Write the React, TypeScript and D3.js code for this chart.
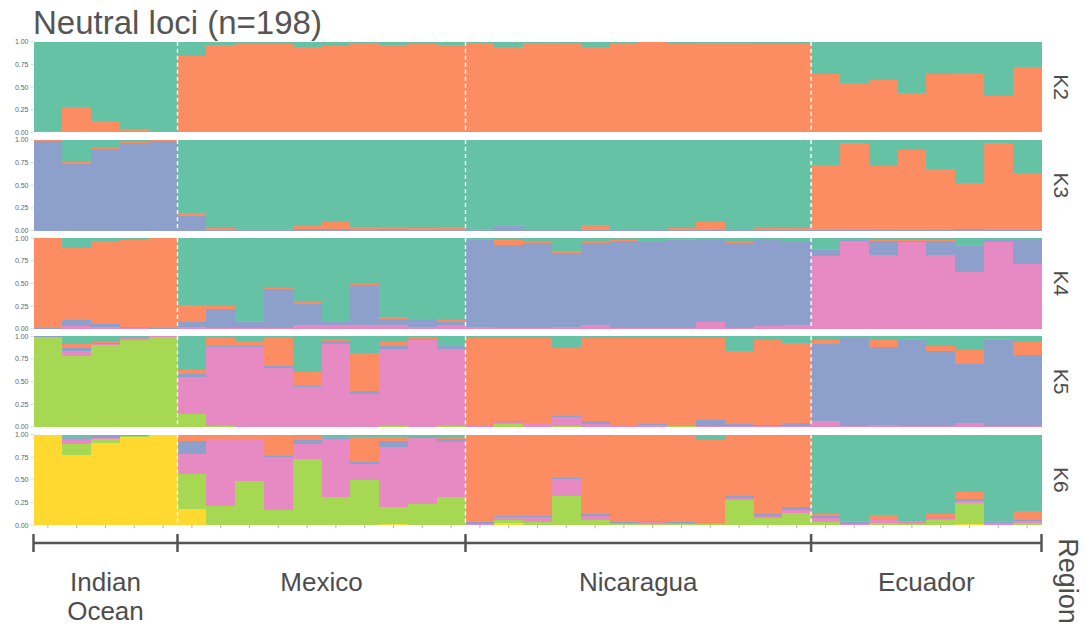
import React from "react";
import * as d3 from "d3";

const regions = ["Indian\nOcean", "Mexico", "Nicaragua", "Ecuador"];
const regionSizes = [5, 10, 12, 8];
const kLabels = ["K2", "K3", "K4", "K5", "K6"];
const yTicks = [0, 0.25, 0.5, 0.75, 1];
const clusterColors = ["#66c2a5", "#fc8d62", "#8da0cb", "#e78ac3", "#a6d854", "#ffd92f"];

// Each row: [q1, q2, ...qK] membership proportions per individual
const k2: number[][] = [
  [0.99, 0.01], [0.72, 0.28], [0.875, 0.125], [0.967, 0.033], [0.995, 0.005],
  [0.154, 0.846], [0.04, 0.96], [0.022, 0.978], [0.022, 0.978], [0.06, 0.94], [0.044, 0.956], [0.018, 0.982], [0.04, 0.96], [0.025, 0.975], [0.04, 0.96],
  [0.015, 0.985], [0.06, 0.94], [0.015, 0.985], [0.015, 0.985], [0.063, 0.937], [0.015, 0.985], [0.005, 0.995], [0.025, 0.975], [0.015, 0.985], [0.01, 0.99], [0.02, 0.98], [0.02, 0.98],
  [0.357, 0.643], [0.452, 0.548], [0.423, 0.577], [0.57, 0.43], [0.357, 0.643], [0.35, 0.65], [0.596, 0.404], [0.283, 0.717],
];

const k3: number[][] = [
  [0.005, 0.01, 0.985], [0.244, 0.018, 0.738], [0.085, 0.015, 0.9], [0.022, 0.015, 0.963], [0.0, 0.011, 0.989],
  [0.808, 0.026, 0.166], [0.974, 0.015, 0.011], [0.985, 0.01, 0.005], [0.982, 0.008, 0.01], [0.952, 0.033, 0.015], [0.908, 0.077, 0.015], [0.965, 0.03, 0.005], [0.96, 0.022, 0.018], [0.974, 0.019, 0.007], [0.96, 0.035, 0.005],
  [0.985, 0.012, 0.003], [0.941, 0.007, 0.052], [0.993, 0.004, 0.003], [0.993, 0.004, 0.003], [0.941, 0.054, 0.005], [0.993, 0.004, 0.003], [0.993, 0.004, 0.003], [0.974, 0.016, 0.01], [0.904, 0.091, 0.005], [0.989, 0.008, 0.003], [0.97, 0.025, 0.005], [0.97, 0.025, 0.005],
  [0.28, 0.715, 0.005], [0.037, 0.96, 0.003], [0.292, 0.697, 0.011], [0.107, 0.888, 0.005], [0.325, 0.67, 0.005], [0.476, 0.502, 0.022], [0.037, 0.952, 0.011], [0.362, 0.633, 0.005],
];

const k4: number[][] = [
  [0.003, 0.993, 0.002, 0.002], [0.114, 0.787, 0.066, 0.033], [0.033, 0.916, 0.033, 0.018], [0.018, 0.96, 0.011, 0.011], [0.003, 0.993, 0.002, 0.002],
  [0.74, 0.18, 0.062, 0.018], [0.751, 0.029, 0.209, 0.011], [0.912, 0.008, 0.069, 0.011], [0.546, 0.011, 0.432, 0.011], [0.707, 0.018, 0.238, 0.037], [0.92, 0.005, 0.029, 0.046], [0.506, 0.011, 0.439, 0.044], [0.872, 0.018, 0.073, 0.037], [0.89, 0.007, 0.085, 0.018], [0.908, 0.015, 0.04, 0.037],
  [0.01, 0.008, 0.964, 0.018], [0.022, 0.055, 0.916, 0.007], [0.04, 0.015, 0.934, 0.011], [0.147, 0.014, 0.817, 0.022], [0.04, 0.015, 0.901, 0.044], [0.022, 0.007, 0.96, 0.011], [0.04, 0.004, 0.945, 0.011], [0.011, 0.007, 0.971, 0.011], [0.007, 0.004, 0.909, 0.08], [0.04, 0.015, 0.934, 0.011], [0.008, 0.007, 0.952, 0.033], [0.033, 0.004, 0.926, 0.037],
  [0.121, 0.015, 0.064, 0.8], [0.02, 0.005, 0.005, 0.97], [0.018, 0.019, 0.154, 0.809], [0.022, 0.008, 0.018, 0.952], [0.022, 0.011, 0.151, 0.816], [0.074, 0.018, 0.279, 0.629], [0.007, 0.004, 0.029, 0.96], [0.011, 0.004, 0.275, 0.71],
];

const k5: number[][] = [
  [0.0, 0.0, 0.005, 0.002, 0.993], [0.085, 0.04, 0.037, 0.055, 0.783], [0.059, 0.018, 0.004, 0.019, 0.9], [0.014, 0.004, 0.0, 0.019, 0.963], [0.0, 0.0, 0.002, 0.002, 0.996],
  [0.368, 0.052, 0.025, 0.415, 0.14], [0.007, 0.1, 0.007, 0.876, 0.01], [0.051, 0.056, 0.007, 0.881, 0.005], [0.007, 0.324, 0.015, 0.649, 0.005], [0.397, 0.151, 0.015, 0.432, 0.005], [0.037, 0.018, 0.026, 0.914, 0.005], [0.185, 0.423, 0.028, 0.359, 0.005], [0.066, 0.044, 0.03, 0.845, 0.015], [0.015, 0.018, 0.007, 0.955, 0.005], [0.092, 0.018, 0.03, 0.845, 0.015],
  [0.015, 0.976, 0.002, 0.005, 0.002], [0.015, 0.919, 0.011, 0.022, 0.033], [0.015, 0.937, 0.008, 0.035, 0.005], [0.125, 0.75, 0.015, 0.103, 0.007], [0.022, 0.915, 0.026, 0.032, 0.005], [0.015, 0.97, 0.008, 0.005, 0.002], [0.015, 0.952, 0.007, 0.021, 0.005], [0.015, 0.97, 0.002, 0.002, 0.011], [0.015, 0.911, 0.064, 0.005, 0.005], [0.158, 0.812, 0.024, 0.004, 0.002], [0.044, 0.93, 0.02, 0.004, 0.002], [0.07, 0.882, 0.042, 0.004, 0.002],
  [0.037, 0.044, 0.856, 0.061, 0.002], [0.015, 0.0, 0.979, 0.004, 0.002], [0.037, 0.084, 0.853, 0.024, 0.002], [0.032, 0.005, 0.957, 0.004, 0.002], [0.107, 0.051, 0.833, 0.007, 0.002], [0.147, 0.162, 0.647, 0.042, 0.002], [0.026, 0.018, 0.95, 0.004, 0.002], [0.066, 0.14, 0.785, 0.007, 0.002],
];

const k6: number[][] = [
  [0.0, 0.002, 0.002, 0.003, 0.004, 0.989], [0.026, 0.017, 0.005, 0.052, 0.121, 0.779], [0.013, 0.005, 0.026, 0.007, 0.041, 0.908], [0.006, 0.004, 0.004, 0.004, 0.015, 0.967], [0.0, 0.0, 0.001, 0.001, 0.001, 0.997],
  [0.011, 0.063, 0.139, 0.217, 0.394, 0.176], [0.0, 0.048, 0.007, 0.732, 0.208, 0.005], [0.0, 0.048, 0.007, 0.46, 0.483, 0.002], [0.0, 0.232, 0.018, 0.577, 0.168, 0.005], [0.015, 0.044, 0.044, 0.169, 0.726, 0.002], [0.033, 0.007, 0.015, 0.636, 0.307, 0.002], [0.026, 0.279, 0.015, 0.187, 0.491, 0.002], [0.033, 0.041, 0.062, 0.664, 0.185, 0.015], [0.026, 0.007, 0.007, 0.739, 0.23, 0.005], [0.037, 0.014, 0.037, 0.599, 0.306, 0.007],
  [0.005, 0.955, 0.025, 0.01, 0.003, 0.002], [0.0, 0.9, 0.012, 0.033, 0.029, 0.026], [0.0, 0.9, 0.012, 0.051, 0.035, 0.002], [0.0, 0.482, 0.014, 0.184, 0.318, 0.002], [0.018, 0.864, 0.015, 0.048, 0.053, 0.002], [0.0, 0.967, 0.007, 0.013, 0.011, 0.002], [0.0, 0.956, 0.011, 0.022, 0.009, 0.002], [0.0, 0.963, 0.017, 0.009, 0.009, 0.002], [0.062, 0.909, 0.007, 0.008, 0.012, 0.002], [0.011, 0.665, 0.019, 0.022, 0.281, 0.002], [0.011, 0.864, 0.022, 0.022, 0.079, 0.002], [0.018, 0.782, 0.035, 0.033, 0.13, 0.002],
  [0.875, 0.025, 0.019, 0.044, 0.035, 0.002], [0.958, 0.002, 0.022, 0.011, 0.005, 0.002], [0.89, 0.05, 0.005, 0.029, 0.024, 0.002], [0.958, 0.002, 0.007, 0.023, 0.008, 0.002], [0.875, 0.037, 0.007, 0.019, 0.06, 0.002], [0.636, 0.077, 0.015, 0.029, 0.232, 0.011], [0.958, 0.002, 0.014, 0.021, 0.003, 0.002], [0.838, 0.103, 0.015, 0.018, 0.024, 0.002],
];

const panelsData = [k2, k3, k4, k5, k6];

const W = 1087;
const H = 631;
const plotLeft = 33.5;
const plotRight = 1041.5;
const panelTop0 = 41.7;
const panelH = 90.7;
const panelStep = 98.2;
const fontFamily = "'Liberation Sans', Arial, Helvetica, sans-serif";

export default function App() {
  const n = k2.length;
  const x = d3.scaleBand<number>().domain(d3.range(n)).range([plotLeft, plotRight]).paddingInner(0).paddingOuter(0);
  const bw = x.bandwidth();

  const cum = [0];
  regionSizes.forEach((s) => cum.push(cum[cum.length - 1] + s));
  const boundaryX = cum.map((c) => (c < n ? (x(c) as number) : plotRight));

  return (
    <svg width={W} height={H} style={{ position: "absolute", left: 0, top: 0, display: "block" }} fontFamily={fontFamily}>
      <rect x={0} y={0} width={W} height={H} fill="#ffffff" />
      <text x={33} y={34} fontSize={33} fill="#555555">Neutral loci (n=198)</text>
      {panelsData.map((data, pi) => {
        const top = panelTop0 + pi * panelStep;
        const y = d3.scaleLinear().domain([0, 1]).range([top + panelH, top]);
        const K = data[0].length;
        return (
          <g key={pi}>
            <g shapeRendering="crispEdges">
              {data.map((q, i) => {
                const total = d3.sum(q);
                let acc = 0;
                const rects = [];
                for (let c = K - 1; c >= 0; c--) {
                  const v = q[c] / total;
                  const y0 = y(acc);
                  const y1 = y(acc + v);
                  acc += v;
                  rects.push(
                    <rect key={c} x={x(i) as number} y={y1} width={bw + 0.5} height={Math.max(0, y0 - y1)} fill={clusterColors[c]} />
                  );
                }
                return <g key={i}>{rects}</g>;
              })}
            </g>
            {boundaryX.slice(1, -1).map((bx, bi) => (
              <line key={bi} x1={bx} x2={bx} y1={top} y2={top + panelH} stroke="#ffffff" strokeWidth={1.4} strokeDasharray="4,3" />
            ))}
            {yTicks.map((t) => (
              <g key={t}>
                <line x1={plotLeft - 3} x2={plotLeft} y1={y(t)} y2={y(t)} stroke="#cccccc" strokeWidth={0.8} />
                <text x={plotLeft - 5} y={y(t)} dy="0.35em" textAnchor="end" fontSize={7} fill="#666666">{t.toFixed(2)}</text>
              </g>
            ))}
            <text
              transform={`translate(${1054}, ${top + panelH / 2}) rotate(90)`}
              textAnchor="middle"
              fontSize={21}
              fill="#4d4d4d"
            >
              {kLabels[pi]}
            </text>
          </g>
        );
      })}
      {d3.range(n).map((i) => {
        const cx = (x(i) as number) + bw / 2;
        const yb = panelTop0 + 4 * panelStep + panelH;
        return <line key={i} x1={cx} x2={cx} y1={yb} y2={yb + 3} stroke="#999999" strokeWidth={0.8} />;
      })}
      <line x1={plotLeft} x2={plotRight} y1={543} y2={543} stroke="#555555" strokeWidth={2.5} />
      {boundaryX.map((bx, bi) => (
        <line key={bi} x1={bx} x2={bx} y1={534} y2={552} stroke="#555555" strokeWidth={2.5} />
      ))}
      {regions.map((r, ri) => {
        const cx = (boundaryX[ri] + boundaryX[ri + 1]) / 2;
        const lines = r.split("\n");
        return (
          <text key={ri} x={cx} y={591} textAnchor="middle" fontSize={26} fill="#4d4d4d">
            {lines.map((l, li) => (
              <tspan key={li} x={cx} dy={li === 0 ? 0 : 29}>{l}</tspan>
            ))}
          </text>
        );
      })}
      <text transform={`translate(1059, 581) rotate(90)`} textAnchor="middle" fontSize={27} fill="#4d4d4d">Region</text>
    </svg>
  );
}
